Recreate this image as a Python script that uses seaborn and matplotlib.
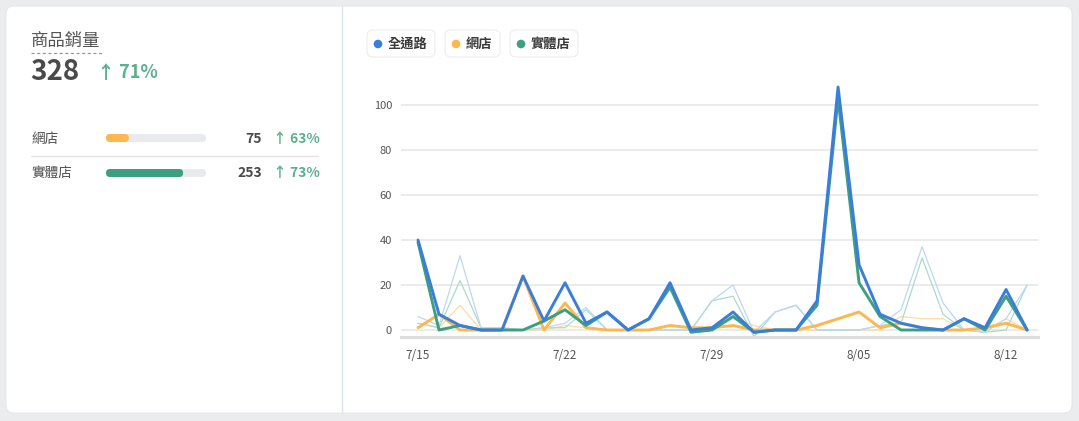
import matplotlib
matplotlib.use("Agg")
import matplotlib.pyplot as plt
from matplotlib.patches import FancyBboxPatch, Circle
import seaborn as sns
import pandas as pd

# ---------------- data ----------------
dates = ['7/15', '7/16', '7/17', '7/18', '7/19', '7/20', '7/21', '7/22', '7/23', '7/24',
         '7/25', '7/26', '7/27', '7/28', '7/29', '7/30', '7/31', '8/01', '8/02', '8/03',
         '8/04', '8/05', '8/06', '8/07', '8/08', '8/09', '8/10', '8/11', '8/12', '8/13']
all_channel = [40, 7, 2, 0, 0, 24, 4, 21, 3, 8, 0, 5, 21, 0, 1, 8, -1, 0, 0, 13,
               108, 29, 7, 3, 1, 0, 5, 1, 18, 0]
online = [1, 7, 0, 0, 0, 24, 0, 12, 1, 0, 0, 0, 2, 1, 1, 2, 0, 0, 0, 2,
          5, 8, 1, 3, 1, 0, 0, 1, 3, 0]
store = [39, 0, 2, 0, 0, 0, 4, 9, 2, 8, 0, 5, 19, -1, 0, 6, -1, 0, 0, 11,
         103, 21, 6, 0, 0, 0, 5, 0, 15, 0]
prev_all = [6, 2, 33, 1, 1, 0, 1, 3, 10, 0, 0, 0, 0, 0, 13, 20, -1, 8, 11, 0,
            0, 0, 2, 9, 37, 12, 0, -1, 5, 20]
prev_online = [3, 1, 11, 0, 0, 0, 0, 2, 1, 0, 0, 0, 0, 0, 0, 5, 2, 0, 0, 0,
               0, 0, 0, 6, 5, 5, 0, 0, 5, 0]
prev_store = [3, 1, 22, 1, 1, 0, 1, 1, 9, 0, 0, 0, 0, 0, 13, 15, -3, 8, 11, 0,
              0, 0, 2, 3, 32, 7, 0, -1, 0, 20]
tick_labels = ['7/15', '7/22', '7/29', '8/05', '8/12']
y_ticks = [0, 20, 40, 60, 80, 100]

series_names = ['全通路', '網店', '實體店']
kpi_title = '商品銷量'
kpi_total = 328
kpi_total_change = '71%'
channel_names = ['網店', '實體店']
channel_values = [75, 253]
channel_changes = ['63%', '73%']

# ---------------- style ----------------
sns.set_theme(style='white')
plt.rcParams['font.family'] = ['Noto Sans CJK TC', 'DejaVu Sans']

BLUE = '#3a7ddb'
ORANGE = '#fdb74f'
GREEN = '#3c9f7f'
L_BLUE = '#bcd7f6'
L_ORANGE = '#fedca3'
L_GREEN = '#a9dcc8'
UPGREEN = '#5cb08d'
TXT = '#4a4a4a'

W, H = 1079, 421
fig = plt.figure(figsize=(W / 100, H / 100), dpi=100)
fig.patch.set_facecolor('#ebecee')

# background / layout axes in pixel units
bg = fig.add_axes([0, 0, 1, 1])
bg.set_xlim(0, W)
bg.set_ylim(H, 0)
bg.axis('off')
bg.add_patch(FancyBboxPatch((6, 6), 1066, 407, boxstyle='round,pad=0,rounding_size=8',
                            fc='white', ec='#e2e3e6', lw=0.6))
bg.plot([342, 342], [6, 413], color='#dfe4ea', lw=1)

# ---------------- left KPI panel ----------------
bg.text(31, 41, kpi_title, fontsize=12.5, color='#555555', va='center', ha='left')
bg.plot([31, 102], [52.5, 52.5], color='#9a9a9a', lw=0.9, ls=(0, (2.5, 2)))
bg.text(30, 72, f'{kpi_total}', fontsize=20, fontweight='bold', color=TXT,
        va='center', ha='left')
bg.text(97, 72, f'↑ {kpi_total_change}', fontsize=13, fontweight='bold', color=UPGREEN,
        va='center', ha='left')

row_y = [139, 173]
for name, val, chg, yy in zip(channel_names, channel_values, channel_changes, row_y):
    bg.text(31, yy, name, fontsize=9.8, color='#505050', va='center', ha='left')
    bg.text(262, yy, f'{val}', fontsize=10, fontweight='bold', color=TXT,
            va='center', ha='right')
    bg.text(273, yy, f'↑ {chg}', fontsize=10, fontweight='bold', color=UPGREEN,
            va='center', ha='left')
bg.plot([31, 318], [156, 156], color='#e1e4e9', lw=1)

# progress bars drawn in a data axis (0..total)
bar_ax = fig.add_axes([106 / W, 1 - 190.5 / H, 100 / W, 70 / H])
bar_ax.set_xlim(0, kpi_total)
bar_ax.set_ylim(1.5, -0.5)
bar_ax.axis('off')
x_per_px = kpi_total / 100.0
y_per_px = 1 / 35.0
bh = 8 * y_per_px
rs = 4 * x_per_px
asp = y_per_px / x_per_px
for i, (val, col) in enumerate(zip(channel_values, [ORANGE, GREEN])):
    bar_ax.add_patch(FancyBboxPatch((0, i - bh / 2), kpi_total, bh,
                                    boxstyle=f'round,pad=0,rounding_size={rs}',
                                    mutation_aspect=asp, fc='#e9eaee', ec='none'))
    bar_ax.add_patch(FancyBboxPatch((0, i - bh / 2), val, bh,
                                    boxstyle=f'round,pad=0,rounding_size={rs}',
                                    mutation_aspect=asp, fc=col, ec='none'))

# ---------------- legend chips ----------------
chips = [(367, 435, BLUE), (445, 500, ORANGE), (510, 578, GREEN)]
for (x0, x1, col), name in zip(chips, series_names):
    bg.add_patch(FancyBboxPatch((x0, 30), x1 - x0, 27, boxstyle='round,pad=0,rounding_size=6',
                                fc='white', ec='#eeeeef', lw=0.9))
    bg.add_patch(Circle((x0 + 11, 44), 4.3, color=col, lw=0))
    bg.text(x0 + 20.5, 43.5, name, fontsize=9.5, fontweight='bold', color='#3a3a3a',
            va='center', ha='left')

# ---------------- main line chart ----------------
day = list(range(len(dates)))
ax = fig.add_axes([401 / W, 1 - 336.75 / H, 637 / W, (336.75 - 82.5) / H])
ax.set_facecolor('none')

light = [(prev_online, L_ORANGE), (prev_store, L_GREEN), (prev_all, L_BLUE)]
for vals, col in light:
    sns.lineplot(x=day, y=vals, color=col, lw=0.9, ax=ax)
main = [(online, ORANGE), (store, GREEN), (all_channel, BLUE)]
for vals, col in main:
    sns.lineplot(x=day, y=vals, color=col, lw=2.1, ax=ax)

ax.set_xlim(-0.81, 29.52)
ax.set_ylim(-3, 110)
ax.set_yticks(y_ticks)
ax.set_yticklabels([str(v) for v in y_ticks])
ax.set_xticks([dates.index(t) for t in tick_labels])
ax.set_xticklabels(tick_labels)
ax.grid(axis='y', color='#ebebeb', lw=1.4)
ax.grid(axis='x', visible=False)
ax.set_axisbelow(True)
for s in ['left', 'top', 'right']:
    ax.spines[s].set_visible(False)
ax.spines['bottom'].set_color('#dedede')
ax.spines['bottom'].set_linewidth(2.2)
ax.tick_params(axis='y', length=0, pad=6.5, labelsize=8, labelcolor='#555555')
ax.tick_params(axis='x', direction='inout', length=9.4, width=0.8, color='#d9d9d9',
               pad=4, labelsize=8.5, labelcolor='#555555')
ax.set_xlabel('')
ax.set_ylabel('')

fig.savefig('out.png', dpi=100, facecolor=fig.get_facecolor())
